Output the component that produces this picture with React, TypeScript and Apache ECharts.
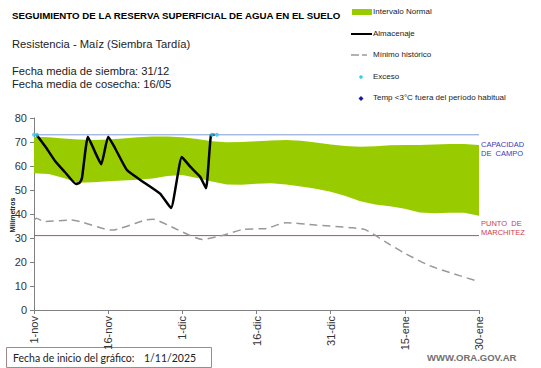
import React, { useEffect, useRef } from "react";
import * as echarts from "echarts";

// x values are days since 1-nov-2025
const tickLabels = ["1-nov", "16-nov", "1-dic", "16-dic", "31-dic", "15-ene", "30-ene"];

const bandDays = [0, 3, 6, 9, 12, 15, 18, 21, 24, 27, 30, 33, 36, 39, 42, 45, 48, 51, 54, 57, 60, 63, 66, 69, 72, 75, 78, 81, 84, 87, 90];
const bandLower = [57, 56.7, 55, 53, 53.2, 53.6, 54, 54.3, 54.8, 55.8, 56.2, 55, 53.5, 52.3, 52.2, 52.6, 52.8, 52.3, 51.5, 50.5, 49.3, 47.5, 45.3, 44, 43.2, 42.2, 40.6, 40.3, 40.5, 40.5, 39.3];
const bandUpper = [72.2, 72, 71.5, 71, 70.8, 71, 71.5, 72, 72.3, 72.3, 72, 71.3, 70.3, 69.9, 70, 70.3, 70.6, 70.8, 70.5, 69.8, 69, 68.3, 68, 68.2, 68.6, 68.8, 68.8, 69, 69.2, 69.2, 68.8];

const minDays = [0, 0.5, 2, 7.5, 15.7, 22.5, 24, 29, 34, 38, 42.3, 47, 51, 57, 64, 67, 71, 75, 80, 85, 90];
const minValues = [37.5, 38.2, 36.9, 37.5, 33.3, 37.5, 37.8, 33.5, 29.4, 31, 33.6, 34, 36.4, 35.4, 34.3, 33.5, 28.5, 23.6, 18.5, 15, 11.8];

const almDays = [0.5, 2.5, 4.3, 6.2, 8.5, 9.2, 9.7, 10.9, 12.3, 13.6, 15, 16.4, 18.8, 21.5, 25.5, 27.7, 29.9, 31.6, 33.6, 34.8, 35.8, 36.5];
const almValues = [73, 67.5, 62, 57.6, 52.5, 53, 55, 72.2, 66, 60.7, 72.2, 67.4, 58.3, 54.2, 48.5, 42.5, 63.7, 59.7, 55.5, 50.7, 72.9, 73];

const excesoDays = [0, 0.6, 36, 37];
const excesoValues = [73, 73, 73, 73];

const capacidadCampo = 73;
const puntoMarchitez = 31;
const xRange = [0, 90];

const FAM = "Liberation Sans";
const FAM2 = "Lato";

export default function App() {
  const ref = useRef<HTMLDivElement>(null);
  useEffect(() => {
    if (!ref.current) return;
    const chart = echarts.init(ref.current, null, { renderer: "svg" });
    const pairs = (xs: number[], ys: number[]) => xs.map((x, i) => [x, ys[i]]);
    const txt = (left: number, top: number, text: string, size: number, extra: any = {}) => ({
      type: "text",
      left,
      top,
      style: { text, fontFamily: FAM, fontSize: size, fill: "#222", ...extra },
    });
    const legendX = 373;
    const legendText = (y: number, text: string) => txt(legendX, y - 5, text, 8);
    const hLine = (name: string, v: number, color: string) => ({
      type: "line",
      name,
      data: xRange.map((x) => [x, v]),
      symbol: "none",
      silent: true,
      lineStyle: { color, width: 1 },
      itemStyle: { color },
      z: 2,
    });
    chart.setOption({
      animation: false,
      textStyle: { fontFamily: FAM },
      grid: { left: 34, right: 62, top: 118, bottom: 58, containLabel: false, outerBoundsMode: "none" },
      xAxis: {
        type: "value",
        min: 0,
        max: 90,
        interval: 15,
        z: 10,
        splitLine: { show: false },
        axisLine: { lineStyle: { color: "#808080", width: 1 } },
        axisTick: { show: true, length: 4, lineStyle: { color: "#808080" } },
        axisLabel: {
          rotate: 90,
          fontSize: 11,
          fontFamily: FAM,
          color: "#333",
          margin: 6,
          formatter: (v: number) => tickLabels[Math.round(v / 15)] ?? "",
        },
      },
      yAxis: {
        type: "value",
        min: 0,
        max: 80,
        interval: 10,
        splitLine: { show: false },
        axisLine: { show: true, lineStyle: { color: "#808080", width: 1 } },
        axisTick: { show: true, length: 4, lineStyle: { color: "#808080" } },
        axisLabel: { fontSize: 11, color: "#333", margin: 7, fontFamily: FAM },
      },
      series: [
        {
          type: "custom",
          name: "Intervalo Normal",
          data: [[0, 0]],
          z: 1,
          renderItem: (params: any, api: any) => {
            const top = bandDays.map((d, i) => api.coord([d, bandUpper[i]]));
            const bottom = bandDays.map((d, i) => api.coord([d, bandLower[i]])).reverse();
            return {
              type: "polygon",
              shape: { points: top.concat(bottom) },
              style: { fill: "#99cc00" },
            };
          },
        },
        hLine("Capacidad de campo", capacidadCampo, "#7f9ad6"),
        hLine("Punto de marchitez", puntoMarchitez, "#cc4455"),
        {
          type: "line",
          name: "Mínimo histórico",
          data: pairs(minDays, minValues),
          symbol: "none",
          smooth: 0.2,
          lineStyle: { color: "#999", width: 1.5, type: [8, 5] },
          z: 3,
        },
        {
          type: "line",
          name: "Almacenaje",
          data: pairs(almDays, almValues),
          symbol: "none",
          smooth: 0.15,
          lineStyle: { color: "#000", width: 2.5 },
          z: 4,
        },
        {
          type: "scatter",
          name: "Exceso",
          data: pairs(excesoDays, excesoValues),
          symbol: "circle",
          symbolSize: 4,
          itemStyle: { color: "#33ccee" },
          z: 5,
        },
      ],
      graphic: [
        txt(12, 10, "SEGUIMIENTO DE LA RESERVA SUPERFICIAL DE AGUA EN EL SUELO", 9.7, { fontWeight: "bold", fill: "#000" }),
        txt(12, 38, "Resistencia - Maíz (Siembra Tardía)", 11.2),
        txt(12, 65, "Fecha media de siembra: 31/12", 11.2),
        txt(12, 78, "Fecha media de cosecha: 16/05", 11.2),
        // y axis title
        {
          type: "text",
          x: 12,
          y: 215,
          rotation: Math.PI / 2,
          style: { text: "Milímetros", fontFamily: FAM, fontSize: 7, fontWeight: "bold", fill: "#222", align: "center", verticalAlign: "middle" },
        },
        // legend
        { type: "rect", shape: { x: 352, y: 9, width: 20, height: 6 }, style: { fill: "#99cc00" } },
        legendText(12, "Intervalo Normal"),
        { type: "line", shape: { x1: 351, y1: 34, x2: 372, y2: 34 }, style: { stroke: "#000", lineWidth: 2 } },
        legendText(34, "Almacenaje"),
        { type: "line", shape: { x1: 351, y1: 55, x2: 359, y2: 55 }, style: { stroke: "#999", lineWidth: 1.5 } },
        { type: "line", shape: { x1: 362, y1: 55, x2: 367, y2: 55 }, style: { stroke: "#666", lineWidth: 1 } },
        legendText(55, "Mínimo histórico"),
        { type: "circle", shape: { cx: 361, cy: 77, r: 1.8 }, style: { fill: "#33ccee" } },
        legendText(77, "Exceso"),
        { type: "polygon", shape: { points: [[361, 96], [363.5, 98.5], [361, 101], [358.5, 98.5]] }, style: { fill: "#1a1aa0" } },
        legendText(98.5, "Temp <3°C fuera del período habitual"),
        // right labels
        txt(481, 140, "CAPACIDAD\nDE  CAMPO", 7.5, { fill: "#3a3ab8", lineHeight: 9 }),
        txt(481, 219, "PUNTO  DE\nMARCHITEZ", 7.5, { fill: "#d03a4a", lineHeight: 9 }),
        // bottom box
        {
          type: "rect",
          shape: { x: 6.5, y: 347.5, width: 205, height: 20 },
          style: { fill: "#fff", stroke: "#9e8a8a", lineWidth: 1 },
        },
        txt(13, 352, "Fecha de inicio del gráfico:", 10.5, { fontFamily: FAM2 }),
        txt(144, 352, "1/11/2025", 10.5, { fontFamily: FAM2 }),
        txt(427, 352, "WWW.ORA.GOV.AR", 9.5, { fontWeight: "bold", fill: "#707070" }),
      ],
    });
    return () => chart.dispose();
  }, []);
  return <div ref={ref} style={{ width: 541, height: 368, position: "absolute", left: 0, top: 0 }} />;
}
